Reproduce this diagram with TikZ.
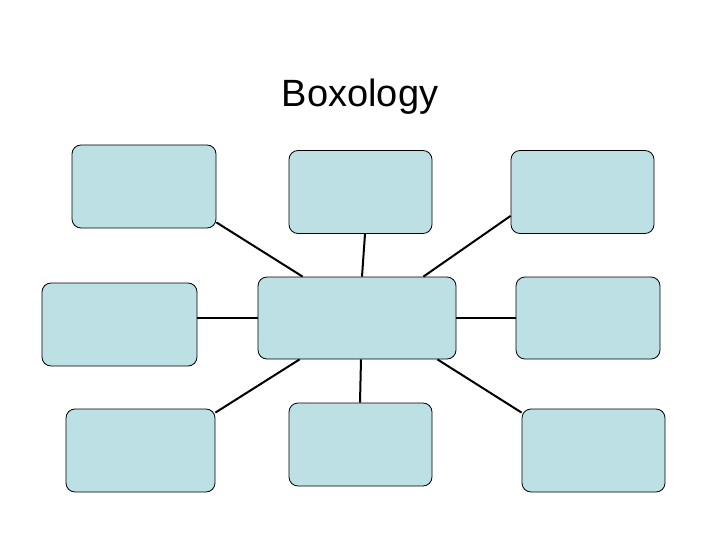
\documentclass[tikz,border=0pt]{standalone}
\usepackage{fontspec}
\setmainfont{Liberation Sans}
\usetikzlibrary{calc}
\definecolor{boxfill}{HTML}{BDE0E4}
\begin{document}
\begin{tikzpicture}[x=1pt,y=-1pt,
  bx/.style={draw=black,line width=0.8pt,fill=boxfill,rounded corners=9pt,minimum width=#1,minimum height=83pt,inner sep=0pt},
  conn/.style={line width=2pt}]
\useasboundingbox (0,0) rectangle (720,540);
\node[font=\fontsize{38}{40}\selectfont] (title) at (360,97) {Boxology};
\node[bx=144pt] (tl) at (144,186.5) {};
\node[bx=143pt] (tc) at (360.5,192) {};
\node[bx=143pt] (tr) at (582.5,192) {};
\node[bx=155pt] (ml) at (119.5,324.5) {};
\node[bx=198pt,minimum height=82pt] (c) at (357,318) {};
\node[bx=144pt,minimum height=82pt] (mr) at (588,318) {};
\node[bx=149pt] (bl) at (140.5,450.5) {};
\node[bx=143pt] (bc) at (360.5,444.5) {};
\node[bx=143pt] (br) at (593.5,450.5) {};
\draw[conn] ($(tl.south east)+(0,-6)$) -- ($(c.north west)+(45,0)$);
\draw[conn] ($(tc.south)+(4.5,0)$) -- ($(c.north)+(5,0)$);
\draw[conn] ($(tr.south west)+(0,-18)$) -- ($(c.north east)+(-33,0)$);
\draw[conn] (ml.east |- c) -- (c.west);
\draw[conn] (c.east) -- (mr.west);
\draw[conn] ($(bl.north east)+(0,4)$) -- ($(c.south west)+(42,0)$);
\draw[conn] ($(c.south)+(4,0)$) -- ($(bc.north)+(-0.5,0)$);
\draw[conn] ($(c.south east)+(-19,0)$) -- ($(br.north west)+(0,4)$);
\end{tikzpicture}
\end{document}
